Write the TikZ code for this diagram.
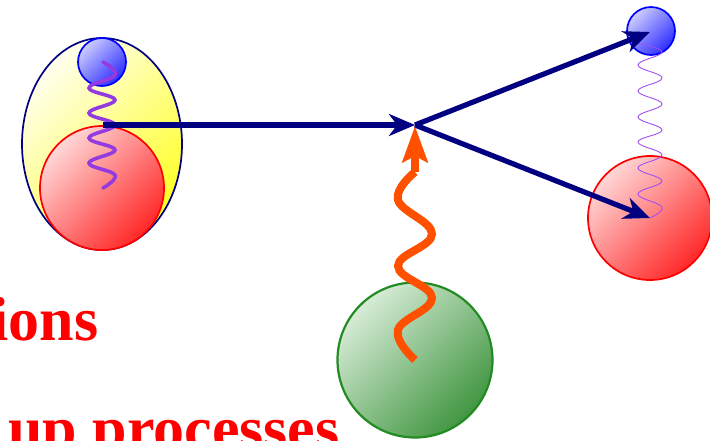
\documentclass[tikz,border=0pt]{standalone}
\usepackage{fontspec}
\setmainfont{Liberation Serif}
\usetikzlibrary{shapes.geometric,arrows.meta}

\definecolor{navyline}{RGB}{0,0,128}
\definecolor{wavepurple}{RGB}{148,58,225}
\definecolor{thinpurple}{RGB}{160,80,240}
\definecolor{photon}{RGB}{255,80,0}
\definecolor{blueLight}{RGB}{205,205,255}
\definecolor{blueDark}{RGB}{45,45,255}
\definecolor{redLight}{RGB}{255,215,215}
\definecolor{redDark}{RGB}{255,40,40}
\definecolor{yelLight}{RGB}{255,255,238}
\definecolor{yelDark}{RGB}{255,255,35}
\definecolor{greenLight}{RGB}{215,236,215}
\definecolor{greenDark}{RGB}{65,150,65}
\definecolor{greenEdge}{RGB}{34,139,34}

\tikzset{
  ball/.style={circle, inner sep=0pt, line width=1.7pt},
  blueball/.style={ball, draw=blue, top color=blueLight, bottom color=blueDark,
    shading angle=45, minimum size=48pt},
  redball/.style={ball, draw=red, top color=redLight, bottom color=redDark,
    shading angle=45, minimum size=124pt},
  greenball/.style={ball, draw=greenEdge, line width=2.2pt, top color=greenLight,
    bottom color=greenDark, shading angle=45, minimum size=155pt},
  hadron/.style={ellipse, inner sep=0pt, line width=1.7pt, draw=navyline,
    top color=yelLight, bottom color=yelDark, shading angle=45,
    minimum width=160pt, minimum height=212pt},
  quarkline/.style={draw=navyline, line width=5.2pt, -{Stealth[length=26pt, width=22pt, inset=8pt]}},
  gluon/.style={draw=wavepurple, line width=3.6pt, line cap=round},
  thingluon/.style={draw=thinpurple, line width=0.9pt},
  photonwave/.style={draw=photon, line width=8pt},
  photonarrow/.style={draw=photon, line width=8pt, -{Stealth[length=36pt, width=25pt, inset=6pt]}},
  lbl/.style={text=red, inner sep=0pt, font=\bfseries\fontsize{62}{62}\selectfont}
}

\begin{document}
\begin{tikzpicture}[x=1pt, y=-1pt]
  \useasboundingbox (0,0) rectangle (710,440);
  \clip (0,0) rectangle (710,440);

  % incoming hadron: yellow bag with two constituents
  \node[hadron] (bag) at (102,144) {};
  \node[blueball] (qa) at (102,62) {};
  \node[redball] (qb) at (102,188) {};
  \draw[gluon] plot[smooth, tension=0.7] coordinates {(103,62) (115,75) (89,88) (115,100) (89,113)
    (115,125) (89,138) (115,150) (89,163) (115,175) (103,188)};

  % interaction vertex
  \coordinate (src) at (103,125);
  \coordinate (vtx) at (415,125);
  \draw[quarkline] (src) -- (vtx);

  % outgoing pair
  \node[blueball] (qc) at (651,31) {};
  \node[redball] (qd) at (650,218) {};
  \coordinate (outA) at (650,32);
  \coordinate (outB) at (650,218);
  \draw[thingluon] plot[smooth, tension=0.7] coordinates {(636,43) (662,52) (638,65) (662,78) (638,91)
    (662,104) (638,117) (662,130) (638,142) (662,155) (638,168) (662,181) (638,194) (662,207) (650,218)};
  \draw[quarkline] (vtx) -- (outA);
  \draw[quarkline] (vtx) -- (outB);

  % photon from the green source
  \node[greenball] (src2) at (415,360) {};
  \coordinate (phTop) at (415,172);
  \coordinate (phTip) at (415,126);
  \draw[photonwave] plot[smooth, tension=0.7] coordinates {(415,360) (398,330) (432,298) (398,266)
    (432,234) (398,200) (415,172)};
  \draw[photonarrow] (phTop) -- (phTip);

  % captions
  \node[lbl, anchor=base west] (capA) at (-8.5,340) {ions};
  \node[lbl, anchor=base west] (capB) at (8,449) {up processes};
\end{tikzpicture}
\end{document}
